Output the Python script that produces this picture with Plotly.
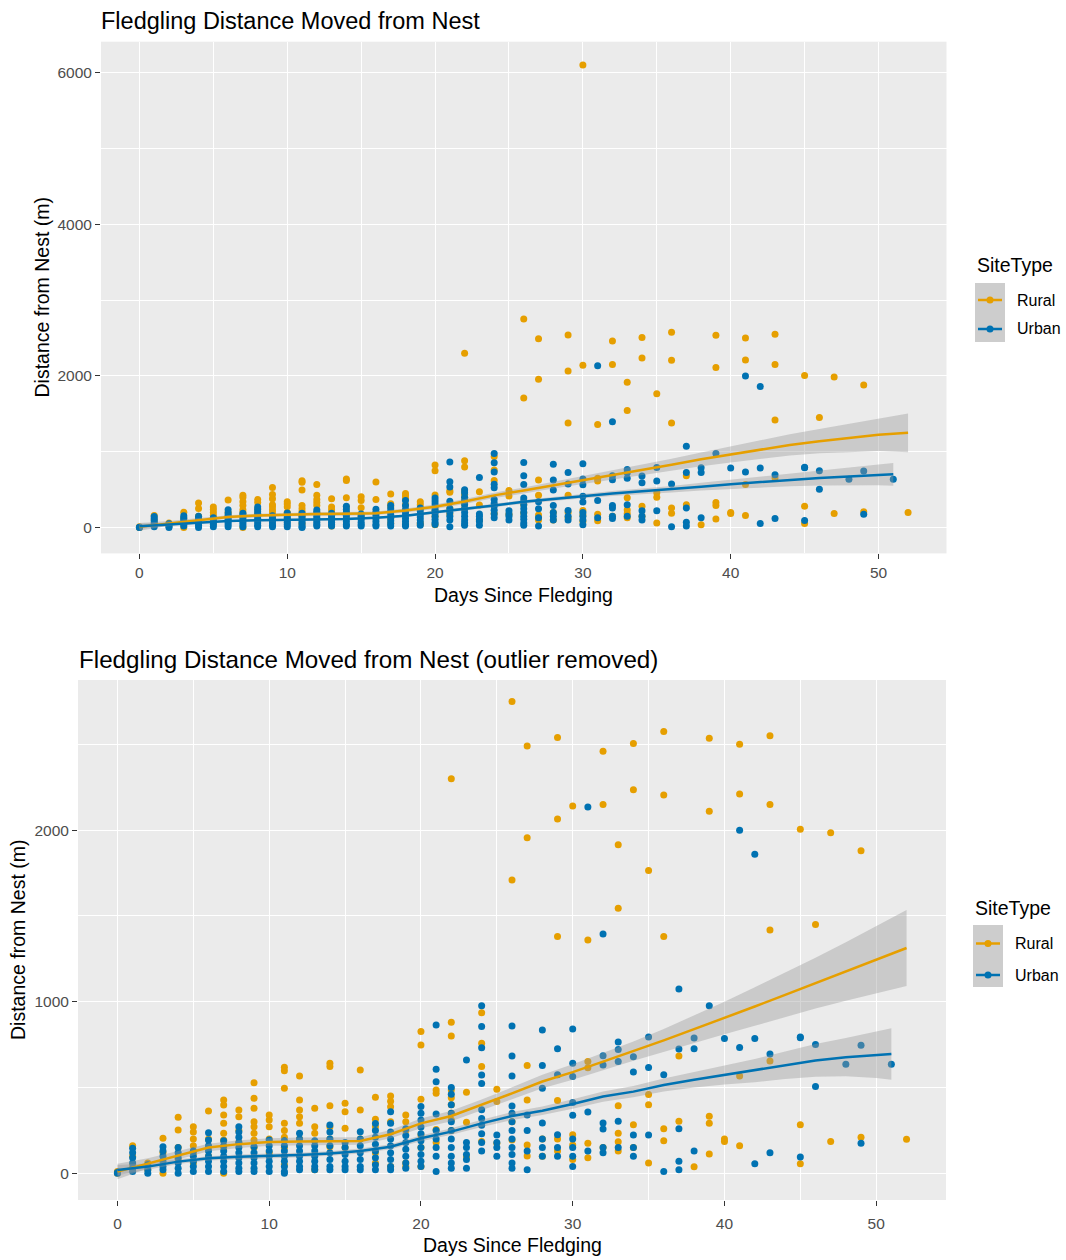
import plotly.graph_objects as go

W, H = 1066, 1260
RURAL_C = "#E69F00"
URBAN_C = "#0072B2"
FONT = "Liberation Sans, Arial, sans-serif"

rural_days = [0, 1, 2, 3, 4, 5, 6, 7, 8, 9, 10, 11, 12, 13, 14, 15, 16, 17, 18, 19,
              20, 21, 22, 23, 24, 25, 26, 27, 28, 29, 30, 31, 32, 33, 34, 35, 36, 37,
              38, 39, 40, 41, 43, 45, 46, 47, 49, 52]
rural_values = [
    [0, 10], [160, 100, 50], [60, 20], [204, 120, 0], [326, 252, 150, 80],
    [272, 240, 200, 160, 117, 60], [363, 200, 150, 100],
    [427, 398, 340, 291, 233, 194, 150, 0], [369, 330, 250, 180],
    [528, 437, 379, 301, 272, 233, 194, 150], [340, 311, 272, 200, 120],
    [618, 598, 495, 291, 250, 210, 150, 50], [567, 427, 369, 330, 291, 200],
    [379, 272, 233, 20], [641, 622, 394, 272, 200, 155], [408, 359, 262, 150],
    [602, 369, 200], [443, 315, 272, 120, 60], [451, 420, 388, 300, 40],
    [340, 300, 250, 60, 40], [826, 748, 431, 223, 150, 39], [485, 466, 256, 180],
    [2300, 880, 800, 485, 440, 400, 350, 310, 250], [472, 297, 97],
    [936, 758, 622, 185], [490, 418, 175], [2750, 1710, 300, 194],
    [2490, 1955, 629, 427, 165, 101], [200, 100], [2540, 2065, 1380, 425, 200, 130],
    [2140, 225, 165, 80], [1360, 652, 615, 175, 90], [2460, 2150, 150],
    [1915, 1545, 393, 233, 184, 130], [2505, 2235, 283, 150], [1765, 459, 400, 60],
    [2575, 2205, 1380, 260, 190], [684, 303], [38], [2535, 2110, 332, 292, 113],
    [200, 185], [2500, 2210, 567, 160], [2550, 2150, 1418, 655], [2005, 283, 55],
    [1450], [1985, 185], [1880, 210], [198],
]
outlier_day = 30
outlier_m = 6100

urban_days = [0, 1, 2, 3, 4, 5, 6, 7, 8, 9, 10, 11, 12, 13, 14, 15, 16, 17, 18, 19,
              20, 21, 22, 23, 24, 25, 26, 27, 28, 29, 30, 31, 32, 33, 34, 35, 36, 37,
              38, 39, 40, 41, 42, 43, 45, 46, 48, 49, 51]
urban_values = [
    [0, 5], [146, 120, 90, 60, 30, 10], [50, 20, 0], [155, 130, 100, 70, 40, 20],
    [150, 120, 90, 60, 30, 0], [130, 100, 70, 40, 10],
    [237, 194, 160, 130, 100, 70, 40, 10], [190, 160, 130, 100, 70, 40, 10],
    [272, 240, 210, 180, 150, 120, 90, 60, 30, 10], [155, 120, 90, 60, 30, 10],
    [194, 160, 130, 100, 70, 40, 10], [190, 160, 130, 100, 70, 40, 10, 0],
    [233, 200, 160, 130, 100, 70, 40, 20], [190, 160, 130, 100, 70, 40, 20],
    [282, 240, 200, 160, 120, 80, 40, 20], [180, 150, 110, 70, 40, 20],
    [242, 200, 160, 120, 80, 40, 20], [290, 250, 210, 170, 130, 90, 50, 20],
    [359, 291, 240, 200, 160, 120, 80, 40, 20], [260, 220, 180, 140, 100, 60, 30],
    [390, 350, 310, 270, 230, 190, 150, 110, 70, 40],
    [864, 606, 534, 346, 250, 200, 150, 100, 10],
    [500, 460, 400, 350, 300, 250, 200, 150, 100, 60, 30],
    [660, 180, 150, 110, 80, 30],
    [977, 855, 732, 573, 524, 370, 320, 280, 230, 180, 130], [223, 180, 150, 100],
    [859, 684, 567, 392, 350, 300, 250, 200, 150, 110, 60, 30], [340, 250, 130, 20],
    [835, 629, 496, 293, 200, 150, 100], [726, 575, 225, 150, 100],
    [841, 641, 564, 412, 338, 200, 150, 100, 39], [2135, 357, 130],
    [1395, 685, 631, 293, 258, 150, 120], [765, 722, 651, 303, 150],
    [680, 591, 223, 150, 100], [794, 616, 223], [575, 10], [1074, 725, 260, 70, 20],
    [788, 726, 130], [977], [786], [2000, 733], [1860, 786, 55], [696, 120],
    [795, 790, 95], [750, 506], [636], [746, 175], [636],
]

# ---------------- smoothed fits ----------------
fit_days_r = [0, 2, 4, 6, 8, 10, 12, 14, 16, 18, 20, 22, 24, 26, 28, 30, 32, 34, 36,
              38, 40, 42, 44, 46, 48, 50, 52]
fit_days_u = [0, 2, 4, 6, 8, 10, 12, 14, 16, 18, 20, 22, 24, 26, 28, 30, 32, 34, 36,
              38, 40, 42, 44, 46, 48, 50, 51]

# top panel (with outlier)
top_rural_fit = [10, 55, 100, 140, 160, 175, 180, 182, 190, 225, 275, 345, 425, 490,
                 560, 630, 690, 760, 830, 900, 964, 1030, 1090, 1140, 1180, 1225, 1250]
top_rural_se = [50, 32, 26, 24, 24, 24, 24, 24, 24, 26, 30, 33, 36, 40, 45, 52, 60,
                68, 78, 90, 105, 122, 140, 160, 185, 215, 255]
top_urban_fit = [19, 39, 68, 87, 97, 101, 107, 115, 130, 155, 204, 243, 291, 340, 380,
                 417, 450, 480, 505, 540, 572, 600, 630, 655, 675, 695, 703]
top_urban_se = [35, 20, 15, 14, 14, 14, 14, 14, 15, 16, 18, 20, 22, 24, 26, 29, 32,
                36, 42, 50, 60, 72, 85, 100, 118, 138, 150]

# bottom panel (outlier removed)
bot_rural_fit = [10, 58, 105, 150, 170, 182, 186, 186, 188, 228, 291, 334, 398, 466,
                 535, 590, 651, 712, 775, 840, 905, 972, 1040, 1108, 1176, 1245, 1313]
bot_rural_se = [45, 30, 25, 22, 22, 22, 22, 22, 22, 24, 28, 30, 32, 35, 40, 45, 50,
                56, 66, 80, 95, 112, 128, 148, 170, 195, 222]
bot_urban_fit = [19, 39, 68, 87, 97, 101, 107, 115, 130, 155, 204, 243, 291, 334, 365,
                 404, 447, 476, 515, 545, 573, 598, 630, 658, 677, 690, 695]
bot_urban_se = [30, 18, 14, 13, 13, 13, 13, 13, 14, 15, 17, 19, 21, 23, 25, 28, 30,
                33, 38, 45, 55, 68, 80, 95, 112, 135, 150]

x_ticks = [0, 10, 20, 30, 40, 50]
top_y_ticks = [0, 2000, 4000, 6000]
bot_y_ticks = [0, 1000, 2000]
site_types = ["Rural", "Urban"]


def flatten(days, values):
    xs, ys = [], []
    for d, vals in zip(days, values):
        for v in vals:
            xs.append(d)
            ys.append(v)
    return xs, ys


r_x, r_y = flatten(rural_days, rural_values)
u_x, u_y = flatten(urban_days, urban_values)

fig = go.Figure()


def add_panel(xa, ya, rx, ry, rfit, rse, ufit, use):
    fig.add_trace(go.Scatter(x=rx, y=ry, mode="markers", xaxis=xa, yaxis=ya,
                             marker=dict(color=RURAL_C, size=7, line=dict(width=0)),
                             showlegend=False, hoverinfo="skip"))
    fig.add_trace(go.Scatter(x=u_x, y=u_y, mode="markers", xaxis=xa, yaxis=ya,
                             marker=dict(color=URBAN_C, size=7, line=dict(width=0)),
                             showlegend=False, hoverinfo="skip"))
    for days, fit, se in ((fit_days_r, rfit, rse), (fit_days_u, ufit, use)):
        up = [f + s for f, s in zip(fit, se)]
        lo = [f - s for f, s in zip(fit, se)]
        fig.add_trace(go.Scatter(x=days + days[::-1], y=up + lo[::-1], mode="lines",
                                 fill="toself", fillcolor="rgba(153,153,153,0.4)",
                                 line=dict(width=0), xaxis=xa, yaxis=ya,
                                 showlegend=False, hoverinfo="skip"))
    for days, fit, col in ((fit_days_r, rfit, RURAL_C), (fit_days_u, ufit, URBAN_C)):
        fig.add_trace(go.Scatter(x=days, y=fit, mode="lines", line=dict(color=col, width=2.5),
                                 xaxis=xa, yaxis=ya, showlegend=False, hoverinfo="skip"))


add_panel("x", "y", r_x + [outlier_day], r_y + [outlier_m],
          top_rural_fit, top_rural_se, top_urban_fit, top_urban_se)
add_panel("x2", "y2", r_x, r_y, bot_rural_fit, bot_rural_se, bot_urban_fit, bot_urban_se)


def px(x):
    return x / W


def py(y):
    return 1 - y / H


axis_common = dict(showgrid=True, gridcolor="white", gridwidth=1.3, zeroline=False,
                   showline=False, ticks="outside", ticklen=5, tickwidth=1,
                   tickcolor="#333333", tickfont=dict(family=FONT, size=15.5, color="#4D4D4D"))

fig.update_layout(
    width=W, height=H, margin=dict(l=0, r=0, t=0, b=0),
    paper_bgcolor="white", plot_bgcolor="#EBEBEB", showlegend=False,
    font=dict(family=FONT),
    xaxis=dict(domain=[px(101), px(946.5)], anchor="y", range=[-2.6, 54.6],
               tickvals=x_ticks, minor=dict(dtick=5, tick0=0, showgrid=True,
                                            gridcolor="white", gridwidth=0.6),
               **axis_common),
    yaxis=dict(domain=[py(553.4), py(41.7)], anchor="x", range=[-340, 6406],
               tickvals=top_y_ticks, minor=dict(dtick=1000, tick0=0, showgrid=True,
                                                gridcolor="white", gridwidth=0.6),
               **axis_common),
    xaxis2=dict(domain=[px(78), px(946)], anchor="y2", range=[-2.6, 54.6],
                tickvals=x_ticks, ticklabelstandoff=4,
                minor=dict(dtick=5, tick0=0, showgrid=True,
                           gridcolor="white", gridwidth=0.6),
                **axis_common),
    yaxis2=dict(domain=[py(1200), py(680)], anchor="x2", range=[-155.6, 2875],
                tickvals=bot_y_ticks, minor=dict(dtick=500, tick0=0, showgrid=True,
                                                 gridcolor="white", gridwidth=0.6),
                **axis_common),
)

ann = []
shapes = []


def text(x, y, s, size, xanchor="left", angle=0, color="black"):
    ann.append(dict(x=px(x), y=py(y), xref="paper", yref="paper", text=s, showarrow=False,
                    xanchor=xanchor, yanchor="middle", textangle=angle,
                    font=dict(family=FONT, size=size, color=color)))


# titles
text(99, 21, "Fledgling Distance Moved from Nest", 23.5)
text(77, 659, "Fledgling Distance Moved from Nest (outlier removed)", 24.2)
# axis titles
text(523.8, 595, "Days Since Fledging", 19.5, xanchor="center")
text(512, 1245, "Days Since Fledging", 19.5, xanchor="center")
text(41, 297.5, "Distance from Nest (m)", 19.5, xanchor="center", angle=-90)
text(18, 940, "Distance from Nest (m)", 19.5, xanchor="center", angle=-90)


def legend(x0, title_y, key_top, key_bottom, row_y):
    text(x0, title_y, "SiteType", 19.5)
    shapes.append(dict(type="rect", xref="paper", yref="paper", x0=px(x0), x1=px(x0 + 30),
                       y0=py(key_bottom), y1=py(key_top), fillcolor="#CDCDCD",
                       line=dict(width=0), layer="above"))
    for name, col, yy in zip(site_types, (RURAL_C, URBAN_C), row_y):
        shapes.append(dict(type="line", xref="paper", yref="paper", x0=px(x0 + 3),
                           x1=px(x0 + 27), y0=py(yy), y1=py(yy),
                           line=dict(color=col, width=2.5), layer="above"))
        cx = x0 + 15
        shapes.append(dict(type="circle", xref="paper", yref="paper", x0=px(cx - 3.5),
                           x1=px(cx + 3.5), y0=py(yy + 3.5), y1=py(yy - 3.5),
                           fillcolor=col, line=dict(width=0), layer="above"))
        text(x0 + 40, yy, name, 16)


legend(975, 265, 283, 342, (300, 329))
legend(973, 908, 925, 987, (943.5, 975))

fig.update_layout(annotations=ann, shapes=shapes)
fig.write_html("out.html")
